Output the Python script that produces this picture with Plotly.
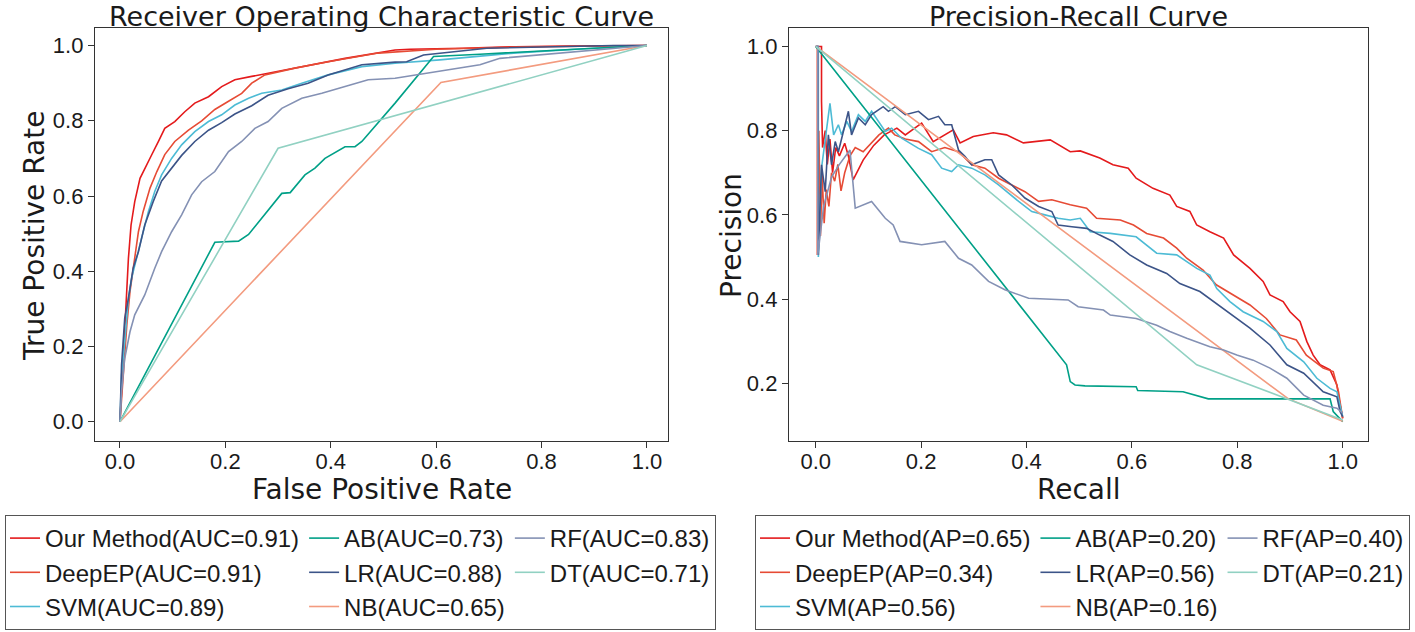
import plotly.graph_objects as go

# ---------------- ROC data ----------------
methods = ["Our Method", "DeepEP", "SVM", "AB", "LR", "NB", "RF", "DT"]
auc_vals = ["0.91", "0.91", "0.89", "0.73", "0.88", "0.65", "0.83", "0.71"]
ap_vals = ["0.65", "0.34", "0.56", "0.20", "0.56", "0.16", "0.40", "0.21"]
colors = ["#E41A1C", "#E64B35", "#4DBBD5", "#00A087", "#3C5488", "#F39B7F", "#8491B4", "#91D1C2"]
groups = [1, 1, 1, 2, 2, 2, 3, 3]

fpr_our = [0, 0.003, 0.006, 0.009, 0.013, 0.016, 0.021, 0.028, 0.038, 0.047, 0.060, 0.073, 0.085, 0.104, 0.123, 0.142, 0.168, 0.193, 0.218, 0.250, 0.300, 0.364, 0.427, 0.522, 0.55, 0.65, 0.75, 0.85, 1.0]
tpr_our = [0, 0.080, 0.168, 0.257, 0.346, 0.434, 0.523, 0.585, 0.647, 0.674, 0.709, 0.745, 0.780, 0.798, 0.824, 0.847, 0.864, 0.891, 0.909, 0.918, 0.931, 0.949, 0.966, 0.988, 0.99, 0.993, 0.997, 0.999, 1.0]

fpr_deep = [0, 0.004, 0.008, 0.013, 0.019, 0.028, 0.035, 0.044, 0.057, 0.070, 0.085, 0.104, 0.130, 0.155, 0.180, 0.206, 0.231, 0.250, 0.275, 0.332, 0.395, 0.490, 0.6, 0.75, 0.9, 1.0]
tpr_deep = [0, 0.080, 0.168, 0.257, 0.346, 0.434, 0.505, 0.559, 0.621, 0.665, 0.710, 0.745, 0.775, 0.800, 0.830, 0.852, 0.873, 0.900, 0.922, 0.940, 0.957, 0.980, 0.99, 0.996, 0.999, 1.0]

fpr_svm = [0, 0.003, 0.009, 0.016, 0.022, 0.032, 0.041, 0.054, 0.066, 0.079, 0.098, 0.117, 0.142, 0.168, 0.193, 0.218, 0.244, 0.269, 0.307, 0.345, 0.395, 0.459, 0.522, 0.607, 0.747, 0.873, 1.0]
tpr_svm = [0, 0.124, 0.213, 0.328, 0.381, 0.434, 0.488, 0.559, 0.612, 0.656, 0.700, 0.736, 0.771, 0.798, 0.816, 0.842, 0.860, 0.873, 0.882, 0.900, 0.922, 0.944, 0.953, 0.962, 0.980, 0.991, 1.0]

fpr_ab = [0, 0.180, 0.225, 0.234, 0.244, 0.307, 0.323, 0.351, 0.370, 0.389, 0.427, 0.446, 0.459, 0.522, 0.595, 0.683, 0.778, 0.857, 1.0]
tpr_ab = [0, 0.477, 0.480, 0.488, 0.498, 0.607, 0.609, 0.656, 0.674, 0.700, 0.731, 0.731, 0.745, 0.847, 0.971, 0.977, 0.984, 0.991, 1.0]

fpr_lr = [0, 0.003, 0.009, 0.016, 0.025, 0.035, 0.047, 0.063, 0.079, 0.098, 0.117, 0.142, 0.168, 0.193, 0.218, 0.250, 0.281, 0.319, 0.357, 0.395, 0.459, 0.522, 0.544, 0.576, 0.696, 0.936, 1.0]
tpr_lr = [0, 0.151, 0.275, 0.328, 0.408, 0.452, 0.523, 0.585, 0.640, 0.675, 0.708, 0.745, 0.775, 0.795, 0.818, 0.840, 0.868, 0.885, 0.900, 0.922, 0.949, 0.956, 0.957, 0.975, 0.993, 1.0, 1.0]

fpr_nb = [0, 0.609, 1.0]
tpr_nb = [0, 0.902, 1.0]

fpr_rf = [0, 0.003, 0.009, 0.019, 0.028, 0.047, 0.066, 0.079, 0.098, 0.117, 0.136, 0.155, 0.180, 0.206, 0.231, 0.256, 0.281, 0.307, 0.345, 0.383, 0.427, 0.471, 0.522, 0.607, 0.683, 0.721, 0.873, 1.0]
tpr_rf = [0, 0.080, 0.168, 0.239, 0.284, 0.337, 0.408, 0.452, 0.505, 0.550, 0.603, 0.638, 0.665, 0.718, 0.745, 0.780, 0.798, 0.833, 0.860, 0.873, 0.891, 0.909, 0.913, 0.931, 0.949, 0.966, 0.984, 1.0]

fpr_dt = [0, 0.300, 1.0]
tpr_dt = [0, 0.727, 1.0]

# ---------------- PR data ----------------
rec_our = [0.0, 0.011, 0.011, 0.013, 0.018, 0.022, 0.027, 0.032, 0.038, 0.045, 0.055, 0.062, 0.071, 0.09, 0.11, 0.13, 0.154, 0.17, 0.201, 0.223, 0.261, 0.274, 0.299, 0.337, 0.362, 0.394, 0.445, 0.483, 0.502, 0.539, 0.564, 0.593, 0.608, 0.640, 0.672, 0.685, 0.710, 0.723, 0.748, 0.774, 0.793, 0.824, 0.849, 0.862, 0.887, 0.900, 0.919, 0.932, 0.944, 0.957, 0.976, 0.989, 0.994, 0.998, 1.0]
prec_our = [1.0, 1.0, 0.87, 0.76, 0.80, 0.72, 0.78, 0.70, 0.76, 0.74, 0.77, 0.74, 0.683, 0.73, 0.765, 0.79, 0.806, 0.79, 0.818, 0.774, 0.802, 0.771, 0.786, 0.795, 0.790, 0.771, 0.778, 0.750, 0.752, 0.735, 0.719, 0.711, 0.687, 0.663, 0.647, 0.620, 0.608, 0.576, 0.560, 0.545, 0.505, 0.473, 0.442, 0.410, 0.394, 0.370, 0.347, 0.299, 0.267, 0.244, 0.232, 0.196, 0.156, 0.125, 0.117]

rec_deep = [0.0, 0.003, 0.003, 0.006, 0.009, 0.012, 0.016, 0.02, 0.025, 0.03, 0.036, 0.042, 0.048, 0.055, 0.065, 0.075, 0.09, 0.105, 0.12, 0.138, 0.15, 0.17, 0.195, 0.22, 0.245, 0.271, 0.296, 0.321, 0.347, 0.372, 0.397, 0.423, 0.448, 0.483, 0.514, 0.533, 0.578, 0.603, 0.628, 0.660, 0.685, 0.704, 0.735, 0.760, 0.792, 0.824, 0.855, 0.881, 0.912, 0.931, 0.963, 0.982, 0.992, 0.998, 1.0]
prec_deep = [1.0, 1.0, 0.505, 0.80, 0.55, 0.70, 0.58, 0.66, 0.62, 0.70, 0.68, 0.72, 0.657, 0.70, 0.74, 0.76, 0.75, 0.77, 0.79, 0.806, 0.79, 0.78, 0.774, 0.75, 0.76, 0.75, 0.719, 0.711, 0.687, 0.671, 0.655, 0.632, 0.636, 0.624, 0.616, 0.592, 0.588, 0.576, 0.556, 0.545, 0.521, 0.497, 0.469, 0.434, 0.410, 0.386, 0.354, 0.315, 0.303, 0.267, 0.236, 0.228, 0.180, 0.125, 0.117]

rec_svm = [0.0, 0.005, 0.005, 0.011, 0.027, 0.034, 0.043, 0.049, 0.059, 0.068, 0.081, 0.094, 0.106, 0.132, 0.144, 0.163, 0.195, 0.22, 0.239, 0.258, 0.271, 0.296, 0.321, 0.347, 0.385, 0.410, 0.435, 0.46, 0.483, 0.502, 0.521, 0.559, 0.608, 0.628, 0.647, 0.685, 0.723, 0.748, 0.761, 0.786, 0.811, 0.849, 0.875, 0.894, 0.926, 0.951, 0.976, 0.989, 0.998, 1.0]
prec_svm = [1.0, 1.0, 0.5, 0.711, 0.865, 0.79, 0.814, 0.79, 0.822, 0.798, 0.838, 0.822, 0.846, 0.798, 0.806, 0.782, 0.758, 0.743, 0.711, 0.703, 0.719, 0.711, 0.695, 0.671, 0.632, 0.608, 0.600, 0.592, 0.588, 0.592, 0.560, 0.556, 0.548, 0.529, 0.509, 0.505, 0.473, 0.457, 0.425, 0.394, 0.370, 0.347, 0.323, 0.283, 0.251, 0.212, 0.188, 0.180, 0.133, 0.121]

rec_ab = [0.0, 0.476, 0.483, 0.492, 0.511, 0.608, 0.611, 0.697, 0.745, 0.976, 0.982, 0.995, 1.0]
prec_ab = [1.0, 0.244, 0.204, 0.196, 0.194, 0.192, 0.183, 0.180, 0.163, 0.163, 0.133, 0.117, 0.109]

rec_lr = [0.0, 0.004, 0.005, 0.011, 0.018, 0.024, 0.030, 0.037, 0.043, 0.062, 0.068, 0.081, 0.094, 0.106, 0.128, 0.138, 0.151, 0.170, 0.195, 0.214, 0.233, 0.245, 0.258, 0.271, 0.283, 0.296, 0.321, 0.334, 0.347, 0.372, 0.397, 0.423, 0.448, 0.46, 0.486, 0.514, 0.539, 0.564, 0.596, 0.628, 0.666, 0.691, 0.729, 0.755, 0.792, 0.824, 0.862, 0.894, 0.926, 0.963, 0.989, 0.995, 1.0]
prec_lr = [1.0, 1.0, 0.505, 0.719, 0.655, 0.790, 0.719, 0.774, 0.750, 0.846, 0.790, 0.830, 0.814, 0.838, 0.857, 0.846, 0.857, 0.838, 0.846, 0.826, 0.834, 0.814, 0.814, 0.754, 0.739, 0.719, 0.731, 0.731, 0.695, 0.671, 0.640, 0.620, 0.608, 0.576, 0.572, 0.568, 0.552, 0.537, 0.505, 0.481, 0.461, 0.437, 0.418, 0.394, 0.362, 0.331, 0.291, 0.244, 0.224, 0.180, 0.168, 0.133, 0.121]

rec_nb = [0.0, 0.897, 1.0]
prec_nb = [1.0, 0.163, 0.110]

rec_rf = [0.0, 0.004, 0.004, 0.015, 0.03, 0.045, 0.065, 0.075, 0.106, 0.132, 0.147, 0.16, 0.201, 0.245, 0.271, 0.296, 0.328, 0.359, 0.404, 0.479, 0.498, 0.546, 0.559, 0.608, 0.647, 0.672, 0.704, 0.723, 0.748, 0.774, 0.799, 0.830, 0.862, 0.894, 0.926, 0.963, 0.989, 1.0]
prec_rf = [1.0, 1.0, 0.505, 0.62, 0.69, 0.72, 0.754, 0.616, 0.632, 0.592, 0.576, 0.537, 0.529, 0.537, 0.497, 0.481, 0.442, 0.422, 0.402, 0.398, 0.382, 0.374, 0.362, 0.354, 0.338, 0.323, 0.307, 0.299, 0.287, 0.279, 0.267, 0.255, 0.236, 0.212, 0.172, 0.148, 0.141, 0.129]

rec_dt = [0.0, 0.723, 1.0]
prec_dt = [1.0, 0.244, 0.113]

roc_x = [fpr_our, fpr_deep, fpr_svm, fpr_ab, fpr_lr, fpr_nb, fpr_rf, fpr_dt]
roc_y = [tpr_our, tpr_deep, tpr_svm, tpr_ab, tpr_lr, tpr_nb, tpr_rf, tpr_dt]
pr_x = [rec_our, rec_deep, rec_svm, rec_ab, rec_lr, rec_nb, rec_rf, rec_dt]
pr_y = [prec_our, prec_deep, prec_svm, prec_ab, prec_lr, prec_nb, prec_rf, prec_dt]

W, H = 1415, 632
TITLE_FONT = "DejaVu Sans"
TXT_FONT = "Liberation Sans"
INK = "#1a1a1a"

fig = go.Figure()
for i, m in enumerate(methods):
    fig.add_trace(go.Scatter(
        x=roc_x[i], y=roc_y[i], mode="lines",
        line=dict(color=colors[i], width=1.6),
        name=f"{m}(AUC={auc_vals[i]})",
        legendgroup=f"roc{groups[i]}", legend="legend",
        xaxis="x", yaxis="y", hoverinfo="skip"))
for i, m in enumerate(methods):
    fig.add_trace(go.Scatter(
        x=pr_x[i], y=pr_y[i], mode="lines",
        line=dict(color=colors[i], width=1.6),
        name=f"{m}(AP={ap_vals[i]})",
        legendgroup=f"pr{groups[i]}", legend="legend2",
        xaxis="x2", yaxis="y2", hoverinfo="skip"))

def px(v):
    return v / W

def py(v):
    return 1 - v / H

axis_common = dict(
    showgrid=False, zeroline=False, showline=True, mirror=True,
    linecolor="#333333", linewidth=1.3,
    ticks="outside", ticklen=6, tickwidth=1.2, tickcolor="#333333",
    tickfont=dict(family=TXT_FONT, size=22, color=INK),
    tickformat=".1f",
)
xstand = -6
ystand = 0

fig.update_layout(
    width=W, height=H,
    margin=dict(l=0, r=0, t=0, b=0, autoexpand=False),
    paper_bgcolor="white", plot_bgcolor="white",
    xaxis=dict(domain=[px(95), px(668)], range=[-0.0474, 1.0399], anchor="y",
               tickvals=[0, 0.2, 0.4, 0.6, 0.8, 1.0], ticklabelstandoff=xstand, **axis_common),
    yaxis=dict(domain=[py(441), py(27.5)], range=[-0.0513, 1.048], anchor="x",
               tickvals=[0, 0.2, 0.4, 0.6, 0.8, 1.0], ticklabelstandoff=ystand, **axis_common),
    xaxis2=dict(domain=[px(789), px(1368)], range=[-0.0507, 1.048], anchor="y2",
                tickvals=[0, 0.2, 0.4, 0.6, 0.8, 1.0], ticklabelstandoff=xstand, **axis_common),
    yaxis2=dict(domain=[py(441), py(27.5)], range=[0.063, 1.045], anchor="x2",
                tickvals=[0.2, 0.4, 0.6, 0.8, 1.0], ticklabelstandoff=ystand, **axis_common),
    legend=dict(x=px(5), y=py(515), xanchor="left", yanchor="top",
                orientation="h", bgcolor="white", bordercolor="#555555", borderwidth=1,
                font=dict(family=TXT_FONT, size=24, color=INK), itemwidth=30),
    legend2=dict(x=px(755), y=py(515), xanchor="left", yanchor="top",
                 orientation="h", bgcolor="white", bordercolor="#555555", borderwidth=1,
                 font=dict(family=TXT_FONT, size=24, color=INK), itemwidth=30),
    showlegend=True,
)

ann = []
ann.append(dict(text="Receiver Operating Characteristic Curve", x=px(381.5), y=py(16),
                xref="paper", yref="paper", xanchor="center", yanchor="middle", showarrow=False,
                font=dict(family=TITLE_FONT, size=27, color=INK)))
ann.append(dict(text="Precision-Recall Curve", x=px(1078.5), y=py(16),
                xref="paper", yref="paper", xanchor="center", yanchor="middle", showarrow=False,
                font=dict(family=TITLE_FONT, size=27, color=INK)))
ann.append(dict(text="False Positive Rate", x=px(381.5), y=py(489),
                xref="paper", yref="paper", xanchor="center", yanchor="middle", showarrow=False,
                font=dict(family=TITLE_FONT, size=28, color=INK)))
ann.append(dict(text="Recall", x=px(1078.5), y=py(489),
                xref="paper", yref="paper", xanchor="center", yanchor="middle", showarrow=False,
                font=dict(family=TITLE_FONT, size=28, color=INK)))
ann.append(dict(text="True Positive Rate", x=px(34), y=py(236),
                xref="paper", yref="paper", xanchor="center", yanchor="middle", showarrow=False,
                textangle=-90, font=dict(family=TITLE_FONT, size=28, color=INK)))
ann.append(dict(text="Precision", x=px(731), y=py(236),
                xref="paper", yref="paper", xanchor="center", yanchor="middle", showarrow=False,
                textangle=-90, font=dict(family=TITLE_FONT, size=28, color=INK)))
fig.update_layout(annotations=ann)

# remove the default page margin so the figure sits at the window's top-left corner
fig.write_html("out.html",
               config={"displayModeBar": False},
               post_script="document.body.style.margin='0';document.body.style.overflow='hidden';")
